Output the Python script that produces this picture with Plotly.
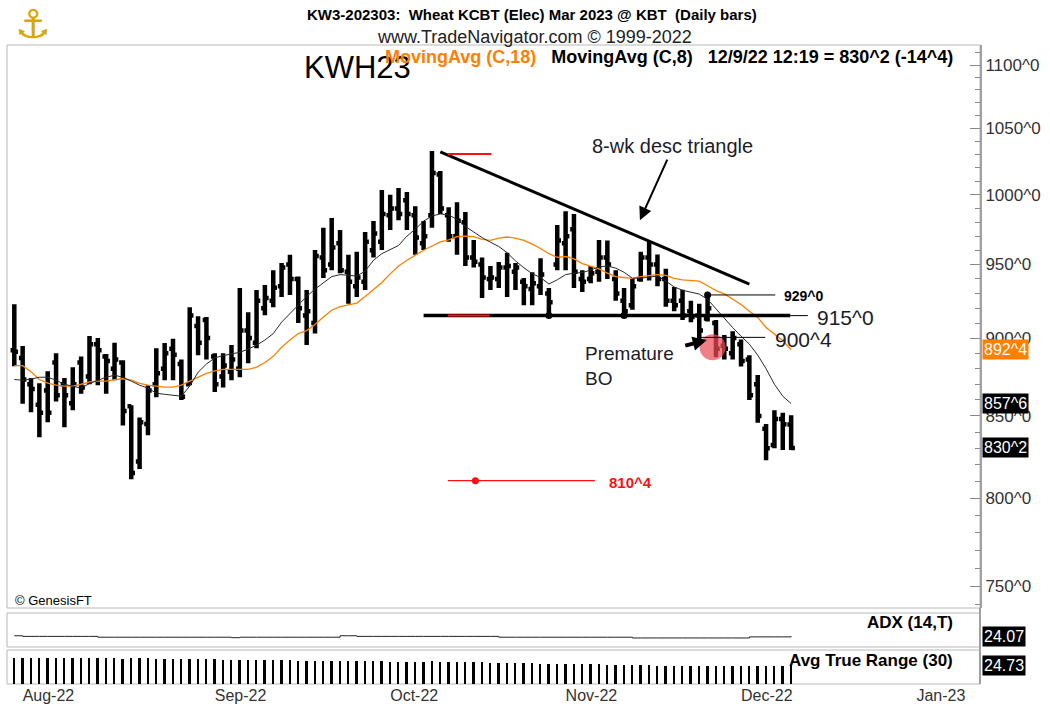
import math
import pandas as pd
import plotly.graph_objects as go

# ---------------- data ----------------
holidays = ["2022-09-05", "2022-11-24", "2022-12-26", "2023-01-02"]
calendar_start = "2022-07-29"
calendar_end = "2023-01-31"
month_labels = ["Aug-22", "Sep-22", "Oct-22", "Nov-22", "Dec-22", "Jan-23"]

highs = [922.7, 894.8, 874.0, 870.7, 878.4, 890.0, 874.0, 881.0, 888.0, 901.4,
         900.0, 889.5, 897.0, 885.5, 856.7, 849.0, 869.4, 893.4, 896.8, 899.5,
         886.0, 920.7, 914.6, 914.0, 890.0, 890.0, 895.4, 933.7, 917.3, 932.4,
         935.8, 946.0, 951.0, 956.8, 941.6, 932.4, 960.2, 976.0, 983.0, 974.4,
         956.8, 959.0, 973.0, 980.8, 1003.4, 1000.0, 1005.0, 1002.0, 991.5, 980.8,
         1032.6, 1017.6, 990.8, 994.4, 987.3, 967.3, 955.0, 949.0, 951.7, 958.3,
         951.0, 940.6, 944.6, 954.4, 933.7, 978.0, 988.0, 986.0, 946.0, 949.0,
         967.3, 967.0, 946.0, 933.7, 940.0, 959.0, 966.5, 957.0, 947.0, 934.5,
         932.5, 925.0, 923.0, 929.0, 912.0, 902.0, 904.5, 899.0, 888.8, 876.0,
         845.0, 853.6, 852.0, 850.4]
lows = [881.6, 857.6, 852.3, 836.8, 846.0, 859.0, 843.0, 853.6, 864.0, 870.0,
        869.4, 864.0, 872.6, 844.0, 811.3, 817.4, 838.0, 861.7, 872.6, 872.6,
        860.0, 869.4, 888.8, 886.0, 865.0, 868.0, 872.6, 874.5, 883.6, 893.4,
        915.3, 920.7, 927.6, 929.0, 910.0, 895.4, 903.0, 940.6, 946.0, 944.0,
        923.0, 927.6, 932.4, 955.0, 960.2, 974.4, 981.5, 974.4, 956.8, 960.2,
        976.0, 986.0, 966.0, 956.8, 949.0, 948.0, 927.0, 932.4, 933.7, 927.6,
        932.4, 922.0, 922.0, 929.0, 914.0, 946.0, 946.0, 933.7, 931.0, 937.0,
        938.0, 940.0, 925.0, 914.5, 919.0, 938.0, 939.0, 935.0, 921.0, 918.0,
        912.0, 910.5, 897.5, 911.0, 887.5, 886.0, 886.0, 881.4, 860.0, 845.7,
        822.8, 830.0, 829.0, 829.0]
opens = [892, 887, 870, 857, 866, 884, 870, 858, 884, 875,
         896, 888, 880, 884, 856, 822, 845, 870, 880, 893,
         883, 870, 908, 912, 888, 875, 878, 880, 905, 897,
         920, 925, 935, 950, 940, 915, 910, 955, 950, 965,
         945, 935, 938, 960, 966, 985, 990, 996, 985, 965,
         985, 1015, 985, 970, 980, 955, 950, 940, 940, 948,
         945, 938, 933, 935, 930, 950, 965, 975, 940, 940,
         945, 955, 940, 925, 922, 940, 955, 950, 940, 925,
         925, 918, 915, 913, 910, 895, 890, 896, 886, 870,
         842, 832, 848, 844.6]
closes = [891, 873, 867, 852, 852, 863, 863, 870, 868, 896,
          892, 885, 886, 853, 815, 846, 866, 877, 890, 889,
          862, 915, 897, 900, 870, 882, 886, 905, 900, 925,
          927, 934, 948, 940, 920, 918, 956, 946, 962, 946,
          938, 941, 966, 972, 986, 990, 986, 986, 969, 970,
          1016, 990, 970, 981, 955, 952, 941, 941, 948, 949,
          948, 935, 937, 943, 924, 967, 970, 945, 938, 944,
          955, 950, 930, 918, 935, 955, 950, 940, 925, 922,
          915, 914, 905, 920, 893, 893, 900, 885, 863, 850,
          830, 848, 844.75, 830.25]
ma18 = [882, 882, 878, 873, 870.7, 869.4, 868.8, 868.8, 870, 871.5,
        872, 872, 873, 873.5, 872.6, 870.5, 869.4, 868.8, 868.2, 868.2,
        869.4, 872, 874.5, 877, 878.6, 879.5, 879.5, 879.5, 879.5, 881,
        884, 888, 894, 898.7, 903, 905, 909, 914, 918.6, 921,
        922, 923.5, 928, 933, 937.5, 943.5, 949, 953, 956.8, 960,
        963, 966, 967.3, 969.7, 970, 969.7, 967.7, 967, 968.6, 969.4,
        968.6, 967, 964.4, 961.3, 957.6, 955, 955.6, 954, 950.7, 949,
        947, 944, 941.6, 941, 940.4, 941.6, 942.4, 943, 942.4, 940.4,
        939.3, 939, 938.5, 935.3, 932, 929.7, 926, 922.5, 918, 913.8,
        907, 902.7, 898.3, 892.5]
ma8 = [873, 872.6, 873.3, 874.5, 874.5, 872.6, 870, 868.8, 867.5, 870.5,
       872.6, 874.5, 875.8, 874.5, 872, 869.4, 867.5, 864.3, 863.6, 863,
       862.4, 868.8, 877.7, 883, 887, 888.5, 889.4, 890.7, 892.7, 895.4,
       898.7, 903, 910.6, 916.6, 922.6, 928, 933, 937.4, 941.6, 943,
       942.3, 942, 945.4, 953, 957.6, 960.6, 963.4, 970, 975, 980.8,
       984.5, 986, 985.3, 982, 977, 973, 969, 965.7, 962.7, 958.3,
       952.5, 947.8, 943.6, 941, 936.5, 939.4, 943, 944, 944.4, 946.2,
       948.3, 949, 947.5, 944.6, 940.5, 940.5, 941.3, 942, 938.5, 934.5,
       932.2, 931, 929.6, 926, 919.5, 912.7, 907, 901.3, 896, 888.8,
       880, 870, 862.4, 857.75]
adx = [24.8, 23.4, 23.4, 23.4, 23.4, 23.4, 23.4, 23.4, 23.4, 23.4,
       21.6, 21.6, 21.6, 21.6, 21.6, 21.6, 21.6, 21.6, 21.6, 21.6,
       21.6, 21.6, 21.6, 21.6, 21.6, 21.6, 20.6, 21.6, 21.6, 21.6,
       21.6, 21.6, 21.6, 21.6, 21.6, 21.6, 21.6, 21.6, 21.6, 24.8,
       24.8, 23.4, 23.4, 23.4, 23.4, 23.4, 23.4, 23.4, 23.4, 23.4,
       23.4, 23.4, 23.4, 23.4, 23.4, 23.4, 23.4, 23.4, 21.6, 21.6,
       21.6, 21.6, 21.6, 21.6, 21.6, 21.6, 21.6, 21.6, 21.6, 21.6,
       21.6, 21.6, 21.6, 21.6, 19.9, 19.9, 19.9, 19.9, 19.9, 19.9,
       19.9, 19.9, 19.9, 19.9, 19.9, 19.9, 19.9, 19.9, 22.3, 22.3,
       22.3, 22.3, 22.3, 24.07]
atr = [35.6, 35.4, 35.5, 35.7, 35.3, 35.2, 35.4, 35.1, 35.0, 34.8,
       34.9, 34.6, 34.7, 34.4, 34.8, 34.9, 34.6, 34.3, 34.1, 33.9,
       33.8, 34.0, 33.7, 33.4, 33.2, 33.0, 32.8, 32.9, 32.6, 32.4,
       32.5, 32.2, 32.0, 31.9, 31.7, 31.8, 31.6, 31.5, 31.3, 31.1,
       31.0, 30.8, 30.9, 30.6, 30.7, 30.4, 30.2, 30.3, 30.1, 30.4,
       30.6, 30.3, 30.0, 29.8, 29.6, 29.4, 29.1, 28.9, 28.7, 28.5,
       28.3, 28.0, 27.8, 27.6, 27.4, 27.5, 27.3, 27.1, 26.8, 26.6,
       26.4, 26.2, 26.0, 25.8, 25.6, 25.4, 25.2, 25.0, 24.8, 24.6,
       24.4, 24.3, 24.3, 24.2, 24.3, 24.2, 24.1, 24.2, 24.3, 24.4,
       24.6, 24.7, 24.6, 24.73]
price_ticks = [750, 800, 850, 900, 950, 1000, 1050, 1100]

# chart-pattern levels drawn by the analyst
peak_level = 1030.4
support_level = 915.0
bo_high_level = 929.0
premature_level = 900.5
target_level = 810.5
trend_start = (51.0, 1032.0)
trend_end = (88.0, 936.5)

# ---------------- helpers ----------------
def fmt(p):
    whole = int(math.floor(p + 1e-9))
    eighths = int(round((p - whole) * 8))
    return f"{whole}^{eighths}"

def fmt_chg(d):
    s = "-" if d < 0 else "+"
    return s + fmt(abs(d))

cal = [d for d in pd.bdate_range(calendar_start, calendar_end)
       if d.strftime("%Y-%m-%d") not in holidays]
n = len(highs)
x = list(range(n))
month_idx = []
seen = {(cal[0].year, cal[0].month)}
for i, d in enumerate(cal):
    key = (d.year, d.month)
    if key not in seen:
        seen.add(key)
        month_idx.append(i)
month_idx = month_idx[:len(month_labels)]

W, H = 1050, 707
L_PX, R_PX, T_PX, B_PX = 7, 980, 45, 684
BAR0_PX, BAR_STEP = 14.3, 8.353

def fx(px):
    return (px - L_PX) / (R_PX - L_PX)

def fy(py):
    return (B_PX - py) / (B_PX - T_PX)

def px2idx(px):
    return (px - BAR0_PX) / BAR_STEP

NARROW = "Liberation Sans Narrow, Arial Narrow, Liberation Sans, Arial"
REG = "Liberation Sans, Arial"
ORANGE = "#ff8000"
TXT = "#1c1c28"

fig = go.Figure()

# red "premature breakout" circle (under the bars)
fig.add_trace(go.Scatter(x=[83.6], y=[894.0], mode="markers",
                         marker=dict(size=26, color="rgba(238,78,88,0.72)"),
                         hoverinfo="skip", showlegend=False))

fig.add_trace(go.Ohlc(x=x, open=opens, high=highs, low=lows, close=closes,
                      increasing=dict(line=dict(color="black", width=4.5)),
                      decreasing=dict(line=dict(color="black", width=4.5)),
                      tickwidth=0.45, hoverinfo="skip", showlegend=False))

fig.add_trace(go.Scatter(x=x, y=ma18, mode="lines", line=dict(color=ORANGE, width=1.3),
                         hoverinfo="skip", showlegend=False))
fig.add_trace(go.Scatter(x=x, y=ma8, mode="lines", line=dict(color="#2a2a2a", width=1),
                         hoverinfo="skip", showlegend=False))

def seg(x0, x1, y0, y1, color, width):
    fig.add_trace(go.Scatter(x=[x0, x1], y=[y0, y1], mode="lines",
                             line=dict(color=color, width=width),
                             hoverinfo="skip", showlegend=False))

# descending trend line
seg(trend_start[0], trend_end[0], trend_start[1], trend_end[1], "black", 3)
# support line (thick) and thin extension
seg(49.0, 92.9, support_level, support_level, "black", 3.5)
seg(92.9, 95.0, support_level, support_level, "black", 1)
# red measure marks
seg(51.9, 57.1, peak_level, peak_level, "#ff1010", 2)
seg(51.9, 56.9, support_level, support_level, "#ff1010", 2)
seg(51.9, 69.5, target_level, target_level, "#ff1010", 1.2)
# breakout reference lines
seg(83.2, 91.1, bo_high_level, bo_high_level, "black", 1)
seg(82.1, 89.9, premature_level, premature_level, "black", 1)

fig.add_trace(go.Scatter(x=[83, 64, 73], y=[bo_high_level, support_level, support_level],
                         mode="markers", marker=dict(size=7, color="black"),
                         hoverinfo="skip", showlegend=False))
fig.add_trace(go.Scatter(x=[55.2], y=[target_level], mode="markers",
                         marker=dict(size=7, color="#ff1010"),
                         hoverinfo="skip", showlegend=False))

# ADX panel
fig.add_trace(go.Scatter(x=x, y=adx, mode="lines", line=dict(color="#222", width=1, shape="hv"),
                         yaxis="y2", hoverinfo="skip", showlegend=False))
# ATR panel
fig.add_trace(go.Bar(x=x, y=atr, width=0.22, marker=dict(color="black", line=dict(width=0)),
                     yaxis="y3", hoverinfo="skip", showlegend=False))

ymin = 738.1
ymax = 1116.3
minor_vals = [v for v in range(740, 1111, 10) if v % 50 != 0]

fig.update_layout(
    width=W, height=H, autosize=False,
    margin=dict(l=L_PX, r=W - R_PX, t=T_PX, b=H - B_PX, pad=0, autoexpand=False),
    paper_bgcolor="white", plot_bgcolor="white",
    showlegend=False, bargap=0,
    xaxis=dict(range=[px2idx(L_PX), px2idx(R_PX)], showgrid=False, zeroline=False,
               tickvals=month_idx, ticktext=month_labels, ticks="",
               ticklabelposition="outside right", automargin=False,
               tickfont=dict(family=NARROW, size=16, color="#333"),
               anchor="y3", rangeslider=dict(visible=False), showline=False),
    yaxis=dict(domain=[fy(608), 1.0], type="log", side="right",
               range=[math.log10(ymin), math.log10(ymax)],
               tickvals=price_ticks, ticktext=[fmt(v) for v in price_ticks],
               ticks="inside", ticklen=10, tickcolor="#888", tickwidth=1,
               minor=dict(tickvals=minor_vals, ticks="inside", ticklen=5,
                          tickcolor="#888", tickwidth=1),
               showgrid=False, zeroline=False, showline=True, linecolor="#a0a0a0",
               linewidth=2, tickfont=dict(family=REG, size=17, color="#333"),
               anchor="x", automargin=False),
    yaxis2=dict(domain=[fy(647), fy(613)], range=[0, 75], showticklabels=False,
                ticks="", showgrid=False, zeroline=False, anchor="x", automargin=False),
    yaxis3=dict(domain=[fy(684), fy(650)], range=[0, 46], showticklabels=False,
                ticks="", showgrid=False, zeroline=False, anchor="x", automargin=False),
)

shapes = []
for (top, bot) in [(45, 608), (613, 647), (650, 684)]:
    shapes.append(dict(type="rect", xref="paper", yref="paper", x0=0, x1=1,
                       y0=fy(bot), y1=fy(top), line=dict(color="#b8b8b8", width=1),
                       layer="below"))
shapes.append(dict(type="line", xref="paper", yref="paper", x0=1, x1=1,
                   y0=fy(684), y1=fy(608), line=dict(color="#a0a0a0", width=2)))
fig.update_layout(shapes=shapes)

ann = []

def txt(xp, yp, text, size, color=TXT, family=REG, xanchor="left", bold=False):
    ann.append(dict(xref="paper", yref="paper", x=fx(xp), y=fy(yp),
                    text=f"<b>{text}</b>" if bold else text, showarrow=False,
                    xanchor=xanchor, yanchor="middle", align="left",
                    font=dict(size=size, color=color, family=family)))

txt(532, 15, "KW3-202303:  Wheat KCBT (Elec) Mar 2023 @ KBT  (Daily bars)", 15,
    color="black", family=NARROW, xanchor="center", bold=True)
txt(534, 37, "www.TradeNavigator.com © 1999-2022", 18, color="#222",
    family=NARROW, xanchor="center")
txt(33, 24, "⚓", 40, color="#d8a800", family="DejaVu Sans", xanchor="center")
txt(357, 67, "KWH23", 31, color="black", xanchor="center")
chg = closes[-1] - closes[-2]
header = (f'<span style="color:{ORANGE}">MovingAvg (C,18)</span>   MovingAvg (C,8)   '
          f'12/9/22 12:19 = {fmt(closes[-1])} ({fmt_chg(chg)})')
txt(955, 57, header, 18, color="black", family=NARROW, xanchor="right", bold=True)
txt(672, 146, "8-wk desc triangle", 20, xanchor="center")
txt(782, 296, fmt(bo_high_level), 14, color="black", bold=True)
txt(815, 318, fmt(support_level), 21)
txt(773, 339, fmt(premature_level), 21)
txt(583, 366, "Premature<br>BO", 19)
txt(607, 482, fmt(target_level), 15, color="#ff1010", bold=True)
txt(13, 600, "© GenesisFT", 13, color="black")
txt(955, 622, "ADX (14,T)", 17, color="black", family=NARROW, xanchor="right", bold=True)
txt(955, 660, "Avg True Range (30)", 17, color="black", family=NARROW, xanchor="right", bold=True)

def box(yref, yval, text, bg):
    ann.append(dict(xref="paper", yref=yref, x=fx(982), y=yval, text=text,
                    showarrow=False, xanchor="left", yanchor="middle",
                    bgcolor=bg, borderpad=1,
                    font=dict(size=16, color="white", family=REG)))

box("y", math.log10(ma18[-1]), fmt(ma18[-1]), "#ff7f00")
box("y", math.log10(ma8[-1]), fmt(ma8[-1]), "black")
box("y", math.log10(closes[-1]), fmt(closes[-1]), "black")
box("y2", adx[-1], f"{adx[-1]:.2f}", "black")
box("y3", atr[-1], f"{atr[-1]:.2f}", "black")

# arrows
ann.append(dict(xref="x", yref="y", x=74.9, y=math.log10(981.5), ax=28, ay=-62,
                text="", showarrow=True, arrowhead=2, arrowsize=1.3, arrowwidth=2,
                arrowcolor="black"))
ann.append(dict(xref="x", yref="y", x=82.9, y=math.log10(898.7), ax=-23, ay=6,
                text="", showarrow=True, arrowhead=2, arrowsize=0.7, arrowwidth=4,
                arrowcolor="black"))
fig.update_layout(annotations=ann)

fig.write_html("out.html", config={"displayModeBar": False},
               post_script="document.body.style.margin='0';")
